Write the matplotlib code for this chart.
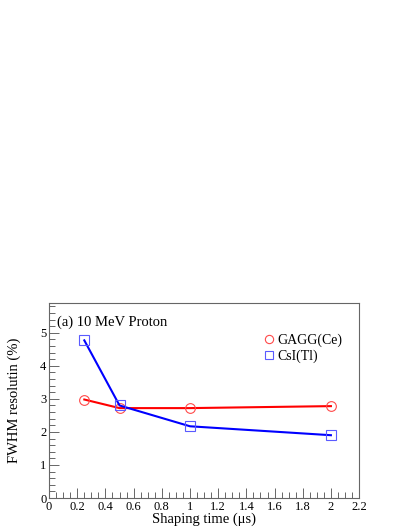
import matplotlib
matplotlib.use('Agg')
import matplotlib.pyplot as plt
from matplotlib.ticker import MultipleLocator

plt.rcParams['font.family'] = ['Liberation Serif', 'DejaVu Serif']
plt.rcParams['mathtext.fontset'] = 'stix'

# data
shaping_time = [0.25, 0.5, 1.0, 2.0]
gagg_res = [2.98, 2.72, 2.72, 2.78]
csi_res = [4.77, 2.80, 2.17, 1.90]

fig = plt.figure(figsize=(4.09, 5.29), dpi=100)
ax = fig.add_axes([0.12, 0.0586, 0.758, 0.3686])

ax.plot(shaping_time, gagg_res, '-', color='red', lw=1.5,
        marker='o', ms=7, mfc='none', mec='#ff4a4a', mew=0.8, label='GAGG(Ce)')
ax.plot(shaping_time, csi_res, '-', color='blue', lw=1.5,
        marker='s', ms=7, mfc='none', mec='#5a5aff', mew=0.8, label='CsI(Tl)')

ax.set_xlim(0, 2.2)
ax.set_ylim(0, 5.9)
ax.xaxis.set_minor_locator(MultipleLocator(0.05))
ax.yaxis.set_major_locator(MultipleLocator(1))
ax.yaxis.set_minor_locator(MultipleLocator(0.2))
ax.set_xticks([0, 0.2, 0.4, 0.6, 0.8, 1, 1.2, 1.4, 1.6, 1.8, 2, 2.2])
ax.set_xticklabels(['0', '0.2', '0.4', '0.6', '0.8', '1', '1.2', '1.4', '1.6', '1.8', '2', '2.2'])
ax.tick_params(which='both', direction='in', top=False, right=False,
               labelsize=9, pad=2, color='0.3')
ax.tick_params(which='major', length=7, width=0.6)
ax.tick_params(which='minor', length=4, width=0.6)
for s in ax.spines.values():
    s.set_linewidth(0.8)
    s.set_color('0.4')

ax.set_xlabel('Shaping time (μs)', fontsize=10.5, labelpad=0)
ax.set_ylabel('FWHM resolutin (%)', fontsize=10.5, labelpad=14)
ax.text(0.025, 0.935, '(a) 10 MeV Proton', transform=ax.transAxes,
        fontsize=10.5, va='top', ha='left')

leg = ax.legend(loc='upper right', bbox_to_anchor=(0.965, 0.87), frameon=False,
                fontsize=10, handlelength=0.7, handletextpad=0.25,
                labelspacing=0.15, borderaxespad=0, markerscale=0.85)
for h in leg.legend_handles:
    h.set_linestyle('none')

fig.savefig('out.png', dpi=100)
